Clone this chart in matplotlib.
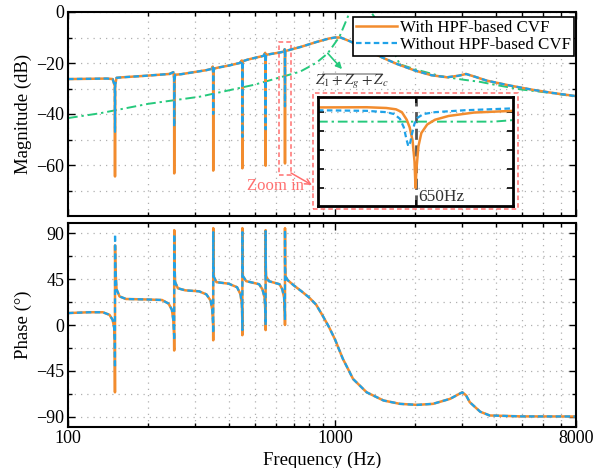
import matplotlib
matplotlib.use("Agg")
import matplotlib.pyplot as plt
from matplotlib.patches import Rectangle
from matplotlib.lines import Line2D
from matplotlib.ticker import FixedLocator, NullFormatter

plt.rcParams["font.family"] = ["Liberation Serif", "DejaVu Serif"]
plt.rcParams["mathtext.fontset"] = "stix"

# ---- magnitude (dB) ----
freq_mag = [
    100, 120, 140, 147, 149.7, 150, 150.3, 152,
    160, 190, 220, 240, 248, 249.7, 250, 250.3, 252,
    265, 300, 330, 345, 348.5, 349.7, 350, 350.3, 352,
    365, 400, 440, 448, 449.7, 450, 450.3, 452,
    470, 510, 540, 548, 549.7, 550, 550.3, 552,
    580, 620, 645, 648, 649.7, 650, 650.3, 652,
    680, 750, 850, 950, 1000, 1050, 1140, 1300, 1500, 1700, 2000,
    2300, 2630, 2900, 3100, 3350, 3700, 4500, 5500, 6500, 8000,
]
mag_hpf = [
    -26.3, -26.2, -26.1, -26.3, -29.0, -64.5, -28.5, -25.8,
    -25.6, -25.1, -24.6, -24.3, -23.6, -26.0, -63.3, -27.0, -24.6,
    -24.4, -23.5, -22.8, -22.3, -21.4, -24.0, -62.2, -25.0, -22.2,
    -21.8, -21.0, -20.0, -19.0, -21.5, -61.3, -22.5, -19.3,
    -18.7, -17.8, -17.2, -16.0, -18.5, -60.3, -19.5, -16.8,
    -16.4, -15.9, -15.5, -14.6, -17.0, -59.4, -18.0, -15.3,
    -14.8, -13.6, -11.8, -10.4, -10.0, -10.0, -11.5, -14.5, -17.8, -20.3, -23.0,
    -24.8, -25.6, -25.0, -24.3, -25.4, -26.9, -28.8, -30.5, -31.7, -33.0,
]
mag_nohpf = [
    -26.3, -26.2, -26.1, -26.3, -29.0, -47.0, -28.5, -25.8,
    -25.6, -25.1, -24.6, -24.3, -23.6, -26.0, -45.0, -27.0, -24.6,
    -24.4, -23.5, -22.8, -22.3, -21.4, -24.0, -40.0, -25.0, -22.2,
    -21.8, -21.0, -20.0, -19.0, -21.5, -49.0, -22.5, -19.3,
    -18.7, -17.8, -17.2, -16.0, -18.5, -46.0, -19.5, -16.8,
    -16.4, -15.9, -15.5, -14.6, -17.0, -37.0, -18.0, -15.3,
    -14.8, -13.6, -11.8, -10.4, -10.0, -10.0, -11.5, -14.5, -17.8, -20.3, -23.0,
    -24.8, -25.6, -25.0, -24.3, -25.4, -26.9, -28.8, -30.5, -31.7, -33.0,
]

# 1/(Z1+Zg+Zc)
freq_z = [100, 132, 200, 312, 500, 740, 850, 940, 1040, 1137, 1200, 1300,
          1376, 1510, 1750, 2000, 2500, 3000, 3500, 4000, 5000, 6500, 8000]
mag_z = [-41.6, -39.7, -36.0, -33.2, -28.5, -23.4, -20.0, -16.2, -9.7, 0.0, 5.0, 5.0,
         -0.5, -7.0, -20.5, -22.5, -25.2, -26.5, -27.4, -28.6, -30.4, -31.8, -33.2]

# ---- phase (deg) ----
freq_ph = [
    100, 120, 135, 143, 147, 149, 149.7, 149.95, 150.05, 150.5, 152, 156, 165,
    200, 225, 238, 245, 248, 249.7, 249.95, 250.05, 250.5, 252, 258, 275,
    310, 330, 342, 347, 349.7, 349.95, 350.05, 350.5, 352, 360,
    400, 430, 443, 448, 449.7, 449.95, 450.05, 450.5, 452, 465,
    520, 535, 545, 549.7, 549.95, 550.05, 550.5, 552, 565,
    620, 635, 645, 649.7, 649.95, 650.05, 650.5, 652, 665,
    700, 750, 800, 850, 900, 950, 1000, 1070, 1170, 1315, 1520, 1750,
    2030, 2330, 2700, 2900, 3000, 3100, 3200, 3500, 3800, 5000, 8000,
]
phase_hpf = [
    11.7, 12.5, 12.5, 10, 5, -3, -15, -66, 78, 55, 35, 28, 25.5,
    25, 24.5, 21, 15, 5, -10, -25, 93, 60, 42, 36, 34,
    33, 30, 24, 15, 0, -15, 95, 62, 47, 42,
    40.5, 37, 30, 20, 5, -10, 95, 62, 48, 43,
    40, 35, 27, 10, -5, 93, 62, 48, 43,
    40, 35, 27, 10, 0, 95, 62, 48, 44,
    39, 33, 27, 20, 9, -2, -14, -33, -53, -66, -74, -77.3,
    -78.3, -77.3, -72.4, -68, -66, -69, -75.7, -85, -88.7, -89.6, -89.7,
]
phase_nohpf = [
    11.7, 12.5, 12.5, 10, 5, -3, -15, -42, 89, 55, 35, 28, 25.5,
    25, 24.5, 21, 15, 5, -10, -15, 89, 60, 42, 36, 34,
    33, 30, 24, 15, 0, -8, 91, 62, 47, 42,
    40.5, 37, 30, 20, 5, -5, 91, 62, 48, 43,
    40, 35, 27, 10, 0, 92, 62, 48, 43,
    40, 35, 27, 10, 5, 93, 62, 48, 44,
    39, 33, 27, 20, 9, -2, -14, -33, -53, -66, -74, -77.3,
    -78.3, -77.3, -72.4, -68, -66, -69, -75.7, -85, -88.7, -89.6, -89.7,
]

# ---- zoomed view around 650 Hz ----
inset_freq_hpf = [600, 625, 635, 640, 643, 645.5, 647, 648.5, 649.5, 650,
                  650.5, 651.5, 653, 656, 660, 667, 680, 700]
inset_hpf = [-15.75, -15.74, -15.78, -15.85, -16.0, -16.4, -16.8, -17.5, -18.6, -20.0,
             -19.0, -17.8, -17.1, -16.65, -16.4, -16.2, -16.02, -15.93]
inset_freq_nohpf = [600, 625, 635, 639, 642, 644, 645.3, 646.3, 647.3, 648.3,
                    649.5, 651, 654, 660, 675, 700]
inset_nohpf = [-15.9, -15.93, -16.0, -16.1, -16.35, -16.8, -17.4, -17.8, -17.6, -17.1,
               -16.6, -16.3, -16.1, -16.0, -15.9, -15.8]
inset_freq_z = [600, 690, 700]
inset_z = [-16.5, -16.5, -16.42]

C_ORANGE = "#F28C2E"
C_BLUE = "#1FA2E8"
C_GREEN = "#25C97C"
C_RED = "#FF6F6F"
GRID_LS = (0, (1, 4))


def style_axis(ax):
    ax.set_xscale("log")
    ax.set_xlim(100, 8000)
    ax.xaxis.set_major_locator(FixedLocator([100, 1000, 8000]))
    ax.xaxis.set_minor_locator(FixedLocator(
        [200, 300, 400, 500, 600, 700, 800, 900,
         2000, 3000, 4000, 5000, 6000, 7000]))
    ax.xaxis.set_minor_formatter(NullFormatter())
    ax.set_xticklabels(["100", "1000", "8000"])
    ax.tick_params(which="both", direction="in", top=True, right=True,
                   labelsize=13, pad=2.5, width=1)
    ax.tick_params(which="major", length=5)
    ax.tick_params(which="minor", length=3)
    for s in ax.spines.values():
        s.set_linewidth(1.5)
    ax.grid(True, which="both", linestyle=GRID_LS, color="#b0b0b0", linewidth=0.9)
    ax.set_axisbelow(True)


fig = plt.figure(figsize=(6.08, 4.68), dpi=100)
ax1 = fig.add_axes([68 / 608, 1 - 216 / 468, 508 / 608, 204 / 468])
ax2 = fig.add_axes([68 / 608, 1 - 427 / 468, 508 / 608, 204 / 468])

# -------- magnitude --------
ax1.plot(freq_z, mag_z, color=C_GREEN, lw=1.4, linestyle=(0, (5, 2, 1.2, 2)))
l_hpf, = ax1.plot(freq_mag, mag_hpf, color=C_ORANGE, lw=1.8,
                  label="With HPF-based CVF")
l_no, = ax1.plot(freq_mag, mag_nohpf, color=C_BLUE, lw=1.6,
                 linestyle=(0, (2.5, 1.5)), label="Without HPF-based CVF")
style_axis(ax1)
ax1.set_ylim(-80, 0)
ax1.yaxis.set_major_locator(FixedLocator([-60, -40, -20, 0]))
ax1.yaxis.set_minor_locator(FixedLocator([-70, -50, -30, -10]))
ax1.tick_params(labelbottom=False)
ax1.set_ylabel("Magnitude (dB)", fontsize=13.5)
ax1.yaxis.set_label_coords(-0.071, 0.5)

leg = ax1.legend(handles=[l_hpf, l_no], loc="upper right",
                 bbox_to_anchor=(0.996, 0.9755), borderaxespad=0,
                 fontsize=12.2, handlelength=2.45, handletextpad=0.2,
                 borderpad=0.15, labelspacing=0.1, fancybox=False,
                 edgecolor="black", framealpha=1)
leg.get_frame().set_linewidth(1.2)

# 1/(Z1+Zg+Zc) label with arrow
ax1.annotate("", xy=(1063, -22.4), xytext=(940, -16.2),
             arrowprops=dict(arrowstyle="-|>", color=C_GREEN, lw=1.2,
                             mutation_scale=9, shrinkA=0, shrinkB=0))
fig.add_artist(Line2D([323 / 608, 382 / 608], [1 - 74 / 468, 1 - 74 / 468],
                      color="#999999", lw=1.2))
fig.text(352 / 608, 1 - 82 / 468, r"$Z_1+Z_g+Z_c$", ha="center", va="center",
         fontsize=11, color="#333333")

# zoom marker
ax1.add_patch(Rectangle((617, -63.9), 684 - 617, 52.1, fill=False,
                        edgecolor=C_RED, lw=1.1, linestyle=(0, (3, 2))))
fig.add_artist(Rectangle((313 / 608, 1 - 209 / 468), 205 / 608, 116 / 468,
                         transform=fig.transFigure, fill=False,
                         edgecolor=C_RED, lw=1.1, linestyle=(0, (3, 2))))
ax1.annotate("", xy=(312 / 608, 1 - 185 / 468), xycoords="figure fraction",
             xytext=(291 / 608, 1 - 173 / 468), textcoords="figure fraction",
             arrowprops=dict(arrowstyle="->", color=C_RED, lw=1.1,
                             shrinkA=0, shrinkB=0))
fig.text(275 / 608, 1 - 186 / 468, "Zoom in", color=C_RED, fontsize=12,
         ha="center", va="center")

# -------- inset --------
axin = fig.add_axes([318 / 608, 1 - 206 / 468, 195 / 608, 109 / 468])
axin.plot(inset_freq_z, inset_z, color=C_GREEN, lw=1.4,
          linestyle=(0, (5, 2, 1.2, 2)))
axin.plot(inset_freq_hpf, inset_hpf, color=C_ORANGE, lw=1.8)
axin.plot(inset_freq_nohpf, inset_nohpf, color=C_BLUE, lw=1.6,
          linestyle=(0, (2.5, 1.5)))
axin.axvline(650, color="#555555", lw=2, linestyle=(0, (4, 2)), zorder=1)
axin.set_xlim(600, 700)
axin.set_ylim(-20.95, -15.2)
axin.set_xticks([650])
axin.set_yticks([-20, -19, -18, -17, -16])
axin.tick_params(direction="in", top=True, right=True, labelleft=False,
                 labelbottom=False, length=4, width=1.2)
axin.grid(True, axis="y", linestyle=GRID_LS, color="#b0b0b0", linewidth=0.9)
for s in axin.spines.values():
    s.set_linewidth(2)
axin.text(651.5, 0.01, "650Hz", transform=axin.get_xaxis_transform(),
          ha="left", va="bottom", fontsize=12.5, color="#333333")

# -------- phase --------
ax2.plot(freq_ph, phase_hpf, color=C_ORANGE, lw=1.8)
ax2.plot(freq_ph, phase_nohpf, color=C_BLUE, lw=1.6, linestyle=(0, (2.5, 1.5)))
style_axis(ax2)
ax2.set_ylim(-100, 100)
ax2.yaxis.set_major_locator(FixedLocator([-90, -45, 0, 45, 90]))
ax2.yaxis.set_minor_locator(FixedLocator([-67.5, -22.5, 22.5, 67.5]))
ax2.set_ylabel("Phase (°)", fontsize=13.5)
ax2.yaxis.set_label_coords(-0.071, 0.5)
ax2.set_xlabel("Frequency (Hz)", fontsize=13.5, labelpad=3)

fig.savefig("out.png", dpi=100)
